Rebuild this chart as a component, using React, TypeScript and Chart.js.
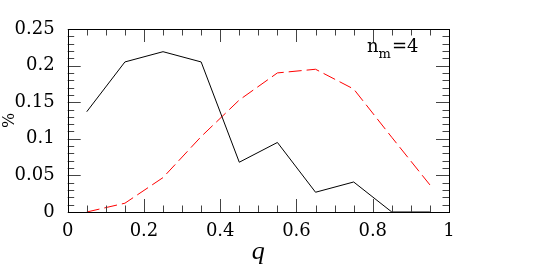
import React, { useEffect, useRef } from 'react';
import { Chart, registerables } from 'chart.js';

Chart.register(...registerables);

const qValues = [0.05, 0.15, 0.25, 0.35, 0.45, 0.55, 0.65, 0.75, 0.85, 0.95];
const blackSeries = [0.137, 0.205, 0.219, 0.205, 0.068, 0.095, 0.027, 0.041, 0, 0];
const redSeries = [0, 0.012, 0.047, 0.103, 0.153, 0.19, 0.195, 0.168, 0.102, 0.037];
const xTickValues = [0, 0.2, 0.4, 0.6, 0.8, 1];
const yTickValues = [0, 0.05, 0.1, 0.15, 0.2, 0.25];
const xMinorStep = 0.05;
const yMinorStep = 0.01;
const xLabel = 'q';
const yLabel = '%';
const annoBase = 'n';
const annoSub = 'm';
const annoRest = '=4';

const SERIF = "'DejaVu Serif', serif";

const framePlugin = {
  id: 'frameTicks',
  afterDatasetsDraw(chart: any) {
    const { ctx, chartArea, scales } = chart;
    const { left, right, top, bottom } = chartArea;
    const x = scales.x;
    const y = scales.y;
    ctx.save();
    ctx.strokeStyle = '#444';
    ctx.lineWidth = 1;
    ctx.beginPath();
    const nx = Math.round((x.max - x.min) / xMinorStep);
    for (let i = 0; i <= nx; i++) {
      const v = x.min + i * xMinorStep;
      const major = xTickValues.some((t) => Math.abs(t - v) < 1e-9);
      const len = major ? 13 : 6.5;
      const px = Math.round(x.getPixelForValue(v)) + 0.5;
      ctx.moveTo(px, bottom);
      ctx.lineTo(px, bottom - len);
      ctx.moveTo(px, top);
      ctx.lineTo(px, top + len);
    }
    const ny = Math.round((y.max - y.min) / yMinorStep);
    for (let i = 0; i <= ny; i++) {
      const v = y.min + i * yMinorStep;
      const major = yTickValues.some((t) => Math.abs(t - v) < 1e-9);
      const len = major ? 13 : 6.5;
      const py = Math.round(y.getPixelForValue(v)) + 0.5;
      ctx.moveTo(left, py);
      ctx.lineTo(left + len, py);
      ctx.moveTo(right, py);
      ctx.lineTo(right - len, py);
    }
    ctx.stroke();
    ctx.strokeStyle = '#000';
    ctx.strokeRect(Math.round(left) + 0.5, Math.round(top) + 0.5, Math.round(right - left), Math.round(bottom - top));

    // annotation n_m=4
    ctx.fillStyle = '#000';
    ctx.textBaseline = 'alphabetic';
    ctx.textAlign = 'left';
    ctx.font = `18px ${SERIF}`;
    let tx = 367;
    const ty = 52;
    ctx.fillText(annoBase, tx, ty);
    tx += ctx.measureText(annoBase).width;
    ctx.font = `13px ${SERIF}`;
    ctx.fillText(annoSub, tx, ty + 6);
    tx += ctx.measureText(annoSub).width + 1;
    ctx.font = `18px ${SERIF}`;
    ctx.fillText(annoRest, tx, ty);
    ctx.restore();
  },
};

export default function App() {
  const ref = useRef<HTMLCanvasElement | null>(null);
  useEffect(() => {
    if (!ref.current) return;
    const chart = new Chart(ref.current, {
      type: 'line',
      data: {
        labels: qValues,
        datasets: [
          {
            data: qValues.map((q, i) => ({ x: q, y: blackSeries[i] })),
            borderColor: '#000',
            borderWidth: 1,
            pointRadius: 0,
            tension: 0,
            fill: false,
          },
          {
            data: qValues.map((q, i) => ({ x: q, y: redSeries[i] })),
            borderColor: '#ff0000',
            borderWidth: 1,
            borderDash: [13, 5],
            pointRadius: 0,
            tension: 0,
            fill: false,
          },
        ],
      },
      options: {
        responsive: false,
        animation: false,
        devicePixelRatio: 1,
        layout: { padding: { left: 0, right: 96, top: 29, bottom: 0 } },
        plugins: { legend: { display: false }, tooltip: { enabled: false } },
        scales: {
          x: {
            type: 'linear',
            min: 0,
            max: 1,
            grid: { display: false, drawTicks: false },
            border: { display: false },
            afterBuildTicks: (s: any) => {
              s.ticks = xTickValues.map((v) => ({ value: v }));
            },
            afterFit: (s: any) => {
              s.height = 67;
            },
            ticks: {
              color: '#000',
              padding: 9,
              maxRotation: 0,
              autoSkip: false,
              font: { family: SERIF, size: 18 },
              callback: (v: any) => String(v),
            },
            title: {
              display: true,
              text: xLabel,
              color: '#000',
              font: { family: "'Liberation Serif', serif", size: 26, style: 'italic', lineHeight: 1 },
              padding: { top: 0, bottom: 14 },
            },
          },
          y: {
            type: 'linear',
            min: 0,
            max: 0.25,
            grid: { display: false, drawTicks: false },
            border: { display: false },
            afterBuildTicks: (s: any) => {
              s.ticks = yTickValues.map((v) => ({ value: v }));
            },
            afterFit: (s: any) => {
              s.width = 67.7;
            },
            ticks: {
              color: '#000',
              padding: 13,
              autoSkip: false,
              font: { family: SERIF, size: 18 },
              callback: (v: any) => String(v),
            },
            title: {
              display: true,
              text: yLabel,
              color: '#000',
              font: { family: SERIF, size: 16, lineHeight: 1 },
              padding: { top: 2, bottom: 0 },
            },
          },
        },
      },
      plugins: [framePlugin],
    } as any);
    return () => chart.destroy();
  }, []);
  return (
    <div style={{ position: 'fixed', left: 0, top: 0, width: 545, height: 279, background: '#fff' }}>
      <canvas ref={ref} width={545} height={279} style={{ width: 545, height: 279, display: 'block' }} />
    </div>
  );
}
